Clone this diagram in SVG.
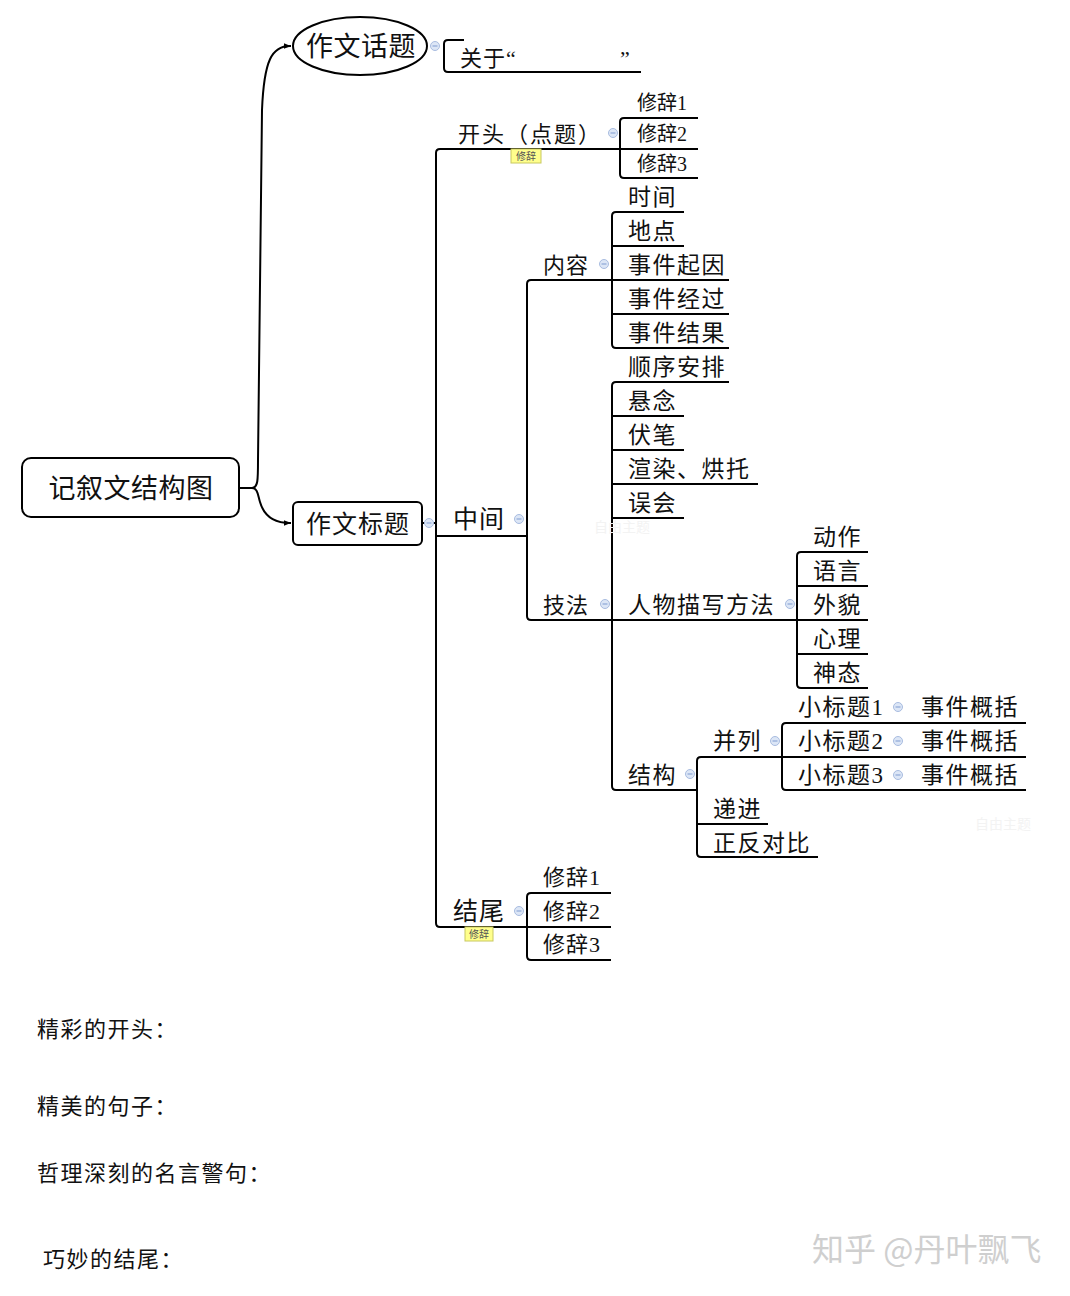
<svg xmlns="http://www.w3.org/2000/svg" width="1070" height="1296" viewBox="0 0 1070 1296">
<style>
.t{font-family:"Liberation Serif","Noto Sans CJK SC",serif;fill:#111}
.s20{font-size:20px}.s22{font-size:22px;letter-spacing:1px}.s23{font-size:23px;letter-spacing:1.5px}.s25{font-size:25px;letter-spacing:1px}.s27{font-size:27px;letter-spacing:0.5px}
.ln{fill:none;stroke:#000;stroke-width:2;stroke-linecap:square}
.col{fill:#dce6f6;stroke:#a8bce0;stroke-width:1}
.cm{stroke:#7f9bd0;stroke-width:1}
.tag{fill:#ffff8c;stroke:#c8c860;stroke-width:1}
.tagt{font-family:"Noto Sans CJK SC",sans-serif;font-size:10px;fill:#555}
.note{font-family:"Noto Sans CJK SC",sans-serif;font-size:22px;letter-spacing:1.5px;fill:#111}
.faint{font-family:"Noto Sans CJK SC",sans-serif;font-size:14px;fill:#f3f3f3}
</style>
<defs>
<marker id="arr" viewBox="0 0 10 10" refX="9" refY="5" markerWidth="7" markerHeight="7" orient="auto" markerUnits="userSpaceOnUse">
<path d="M0,1 L10,5 L0,9 z" fill="#000"/>
</marker>
<g id="c"><circle r="4.5" class="col"/><line x1="-2.5" y1="0" x2="2.5" y2="0" class="cm"/></g>
</defs>
<rect width="1070" height="1296" fill="#fff"/>

<g id="connectors">
<path class="ln" d="M240,488 H252 C258,488 258,480 258,460 L262,110 C264,60 272,46 290,46" marker-end="url(#arr)"/>
<path class="ln" d="M252,488 C258,488 258,496 260,502 C264,516 274,523 290,523" marker-end="url(#arr)"/>
<path class="ln" d="M463,40 H448 Q444,40 444,44 V68 Q444,72 448,72 H640"/>
<path class="ln" d="M423,523 H436"/>
<path class="ln" d="M697,149 H440 Q436,149 436,153 V923 Q436,927 440,927 H527"/>
<path class="ln" d="M697,118 H624 Q620,118 620,122 V174 Q620,178 624,178 H697"/>
<path class="ln" d="M436,536 H527"/>
<path class="ln" d="M612,280 H531 Q527,280 527,284 V616 Q527,620 531,620 H612"/>
<path class="ln" d="M683,212 H616 Q612,212 612,216 V344 Q612,348 616,348 H728"/>
<path class="ln" d="M612,246 H683 M612,280 H728 M612,314 H728"/>
<path class="ln" d="M728,382 H616 Q612,382 612,386 V786 Q612,790 616,790 H697"/>
<path class="ln" d="M612,416 H683 M612,450 H683 M612,484 H757 M612,518 H683 M612,620 H797"/>
<path class="ln" d="M867,552 H801 Q797,552 797,556 V684 Q797,688 801,688 H867"/>
<path class="ln" d="M797,586 H867 M797,620 H867 M797,654 H867"/>
<path class="ln" d="M782,757 H701 Q697,757 697,761 V853 Q697,857 701,857 H817"/>
<path class="ln" d="M697,824 H767"/>
<path class="ln" d="M1025,723 H786 Q782,723 782,727 V786 Q782,790 786,790 H1025"/>
<path class="ln" d="M782,757 H1025"/>
<path class="ln" d="M610,893 H531 Q527,893 527,897 V956 Q527,960 531,960 H610"/>
<path class="ln" d="M527,927 H610"/>
</g>

<g id="root">
<rect x="22" y="458" width="217" height="59" rx="9" fill="#fff" stroke="#000" stroke-width="2"/>
<text x="131" y="498" text-anchor="middle" class="t s27">记叙文结构图</text>
</g>

<g id="topic">
<ellipse cx="360" cy="46" rx="67" ry="29" fill="#fff" stroke="#000" stroke-width="2"/>
<text x="361" y="56" text-anchor="middle" class="t s27">作文话题</text>
<use href="#c" x="435" y="46"/>
</g>
<g id="about">
<text x="460" y="66" class="t s22">关于“</text>
<text x="620" y="66" class="t s22">”</text>
</g>

<g id="title">
<rect x="293" y="502" width="129" height="43" rx="5" fill="#fff" stroke="#000" stroke-width="2"/>
<text x="358" y="533" text-anchor="middle" class="t s25">作文标题</text>
<use href="#c" x="429" y="523"/>
</g>

<g id="opening">
<text x="458" y="142" class="t s22" style="letter-spacing:2px">开头（点题）</text>
<use href="#c" x="613" y="133"/>
<rect x="511" y="149" width="30" height="14" class="tag"/>
<text x="526" y="160" text-anchor="middle" class="tagt">修辞</text>
</g>
<g id="o1"><text x="637" y="110" class="t s20">修辞1</text></g>
<g id="o2"><text x="637" y="141" class="t s20">修辞2</text></g>
<g id="o3"><text x="637" y="171" class="t s20">修辞3</text></g>

<g id="middle">
<text x="453" y="528" class="t s25">中间</text>
<use href="#c" x="519" y="519"/>
</g>
<g id="content">
<text x="543" y="273" class="t s22">内容</text>
<use href="#c" x="604" y="264"/>
</g>
<g id="c1"><text x="628" y="205" class="t s23">时间</text></g>
<g id="c2"><text x="628" y="239" class="t s23">地点</text></g>
<g id="c3"><text x="628" y="273" class="t s23">事件起因</text></g>
<g id="c4"><text x="628" y="307" class="t s23">事件经过</text></g>
<g id="c5"><text x="628" y="341" class="t s23">事件结果</text></g>

<g id="skill">
<text x="543" y="613" class="t s22">技法</text>
<use href="#c" x="605" y="604"/>
</g>
<g id="k1"><text x="628" y="375" class="t s23">顺序安排</text></g>
<g id="k2"><text x="628" y="409" class="t s23">悬念</text></g>
<g id="k3"><text x="628" y="443" class="t s23">伏笔</text></g>
<g id="k4"><text x="628" y="477" class="t s23">渲染、烘托</text></g>
<g id="k5"><text x="628" y="511" class="t s23">误会</text></g>
<g id="k6">
<text x="628" y="613" class="t s23">人物描写方法</text>
<use href="#c" x="790" y="604"/>
</g>
<g id="p1"><text x="813" y="545" class="t s23">动作</text></g>
<g id="p2"><text x="813" y="579" class="t s23">语言</text></g>
<g id="p3"><text x="813" y="613" class="t s23">外貌</text></g>
<g id="p4"><text x="813" y="647" class="t s23">心理</text></g>
<g id="p5"><text x="813" y="681" class="t s23">神态</text></g>

<g id="structure">
<text x="628" y="783" class="t s23">结构</text>
<use href="#c" x="690" y="774"/>
</g>
<g id="parallel">
<text x="713" y="749" class="t s23">并列</text>
<use href="#c" x="775" y="741"/>
</g>
<g id="sub1"><text x="798" y="715" class="t s23">小标题1</text><use href="#c" x="898" y="707"/></g>
<g id="sub2"><text x="798" y="749" class="t s23">小标题2</text><use href="#c" x="898" y="741"/></g>
<g id="sub3"><text x="798" y="783" class="t s23">小标题3</text><use href="#c" x="898" y="775"/></g>
<g id="e1"><text x="921" y="715" class="t s23">事件概括</text></g>
<g id="e2"><text x="921" y="749" class="t s23">事件概括</text></g>
<g id="e3"><text x="921" y="783" class="t s23">事件概括</text></g>
<g id="progress"><text x="713" y="817" class="t s23">递进</text></g>
<g id="contrast"><text x="713" y="851" class="t s23">正反对比</text></g>

<g id="ending">
<text x="453" y="920" class="t s25">结尾</text>
<use href="#c" x="519" y="911"/>
<rect x="465" y="927" width="28" height="14" class="tag"/>
<text x="479" y="938" text-anchor="middle" class="tagt">修辞</text>
</g>
<g id="r1"><text x="543" y="885" class="t s22">修辞1</text></g>
<g id="r2"><text x="543" y="919" class="t s22">修辞2</text></g>
<g id="r3"><text x="543" y="952" class="t s22">修辞3</text></g>

<text x="594" y="532" class="faint">自由主题</text>
<text x="975" y="829" class="faint">自由主题</text>

<text x="37" y="1037" class="note">精彩的开头：</text>
<text x="37" y="1114" class="note">精美的句子：</text>
<text x="37" y="1181" class="note">哲理深刻的名言警句：</text>
<text x="43" y="1267" class="note">巧妙的结尾：</text>

<text x="812" y="1261" font-family="Noto Sans CJK SC, sans-serif" font-size="32" fill="#cfcfcf">知乎 @丹叶飘飞</text>
</svg>
